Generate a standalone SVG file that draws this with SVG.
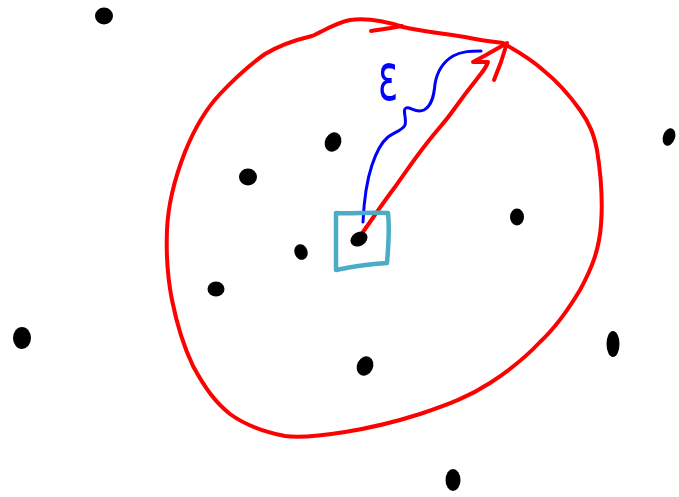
<svg xmlns="http://www.w3.org/2000/svg" width="679" height="497" viewBox="0 0 679 497">
<style>
.red{fill:none;stroke:#ff0000;stroke-width:4;stroke-linecap:round;stroke-linejoin:round}
.blue{fill:none;stroke:#0000ff;stroke-width:3;stroke-linecap:round;stroke-linejoin:round}
.box{fill:none;stroke:#4bacc6;stroke-width:4.5;stroke-linecap:round;stroke-linejoin:round}
.dot{fill:#000}
.eps{font-family:"DejaVu Sans",sans-serif;font-size:44px;fill:#0000ff}
</style>
<rect width="679" height="497" fill="#fff"/>
<g id="circle">
<path class="red" d="M503,43 C515,50 530,58 543,70 C558,82 570,96 580,110 C590,124 594,135 597,150 C601,175 603,200 601,225 C599,250 592,268 580,290 C568,310 553,330 540,342 C525,358 510,370 490,383 C470,396 450,404 420,414 C395,422 370,428 345,432 C320,436 300,438 285,436 C265,432 245,425 230,414 C215,402 205,388 193,366 C183,345 176,320 172,300 C168,280 166,255 167,230 C168,205 174,180 185,152 C195,127 205,110 220,94 C235,78 248,66 265,54 C280,45 295,40 312,36 C325,30 338,22 350,20 C365,18 385,21 403,27 C425,32 450,34 470,38 C485,41 495,42 503,43"/>
<path class="red" d="M371,31 C382,29 392,28 402,26"/>
</g>
<g id="radius">
<path class="red" d="M363,232 C375,215 385,200 395,187 C405,173 415,158 427,143 C437,130 445,122 452,112 C462,98 472,85 480,75 C484,70 487,65 488,62 L473,62 L486,55 L507,43 L501,62 L494,80"/>
</g>
<g id="epsilon">
<path class="blue" d="M363,222 C364,200 367,180 372,165 C377,150 382,142 388,137 C395,132 403,130 405,125 C407,118 402,110 406,108 C410,106 416,114 424,110 C432,106 434,95 435,84 C437,72 443,62 453,56 C462,51 472,51 481,51"/>
<text class="eps" text-anchor="middle" transform="translate(388,100) scale(0.85,1.5)">ε</text>
</g>
<g id="cell">
<path class="box" d="M336,213 C350,214 370,212 388,213 C390,230 388,250 387,263 C370,264 350,267 336,270 C336,250 336,230 336,213"/>
</g>
<g id="points">
<ellipse class="dot" cx="104" cy="16" rx="9" ry="8.5"/>
<ellipse class="dot" cx="669" cy="137" rx="6" ry="9" transform="rotate(20 669 137)"/>
<ellipse class="dot" cx="22" cy="338" rx="9" ry="11"/>
<ellipse class="dot" cx="613" cy="344" rx="6.5" ry="13"/>
<ellipse class="dot" cx="453" cy="480" rx="7.5" ry="11"/>
<ellipse class="dot" cx="359" cy="239" rx="9" ry="7" transform="rotate(-30 359 239)"/>
<ellipse class="dot" cx="248" cy="177" rx="9" ry="8.5"/>
<ellipse class="dot" cx="333" cy="142" rx="8" ry="10" transform="rotate(25 333 142)"/>
<ellipse class="dot" cx="517" cy="217" rx="7" ry="8.5"/>
<ellipse class="dot" cx="301" cy="252" rx="6.5" ry="8" transform="rotate(-20 301 252)"/>
<ellipse class="dot" cx="216" cy="289" rx="8.5" ry="7.5"/>
<ellipse class="dot" cx="365" cy="366" rx="8" ry="10" transform="rotate(25 365 366)"/>
</g>
</svg>
